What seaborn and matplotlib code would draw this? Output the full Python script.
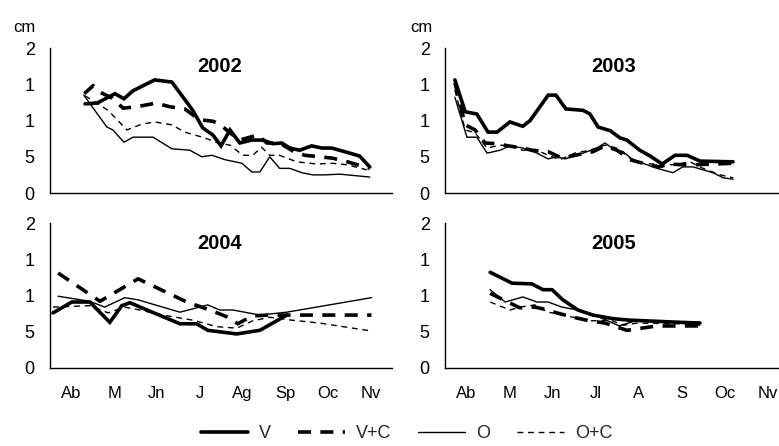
import numpy as np
import pandas as pd
import seaborn as sns
import matplotlib
matplotlib.use("Agg")
import matplotlib.pyplot as plt
from matplotlib.lines import Line2D

sns.set_style("white")
plt.rcParams['font.family'] = ['Liberation Sans', 'DejaVu Sans']

# ---------------- data (x in month-category units, y in axis units) ----------------
months_left = ["Ab", "M", "Jn", "J", "Ag", "Sp", "Oc", "Nv"]
months_right = ["Ab", "M", "Jn", "Jl", "A", "S", "Oc", "Nv"]
ytick_vals = [0, 0.5, 1.0, 1.5, 2.0]
ytick_labels = ["0", "5", "1", "1", "2"]
series_names = ["V", "V+C", "O", "O+C"]

# 2002
x02_V = [0.82, 1.10, 1.52, 1.73, 1.94, 2.45, 2.85, 3.34, 3.57, 3.81, 4.00, 4.21, 4.44, 4.72, 4.98, 5.21, 5.42, 5.61, 5.84, 6.12, 6.36, 6.59, 7.01, 7.24, 7.48]
y02_V = [1.23, 1.24, 1.37, 1.30, 1.41, 1.56, 1.53, 1.14, 0.90, 0.80, 0.65, 0.87, 0.69, 0.73, 0.73, 0.68, 0.69, 0.62, 0.59, 0.65, 0.62, 0.62, 0.55, 0.51, 0.36]
x02_VC = [0.80, 1.01, 1.17, 1.45, 1.71, 2.03, 2.48, 2.80, 3.15, 3.50, 3.81, 3.97, 4.21, 4.44, 4.86, 5.07, 5.37, 5.68, 5.96, 6.31, 6.61, 6.96, 7.48]
y02_VC = [1.37, 1.48, 1.39, 1.31, 1.17, 1.19, 1.24, 1.19, 1.16, 1.01, 0.99, 0.95, 0.83, 0.73, 0.80, 0.69, 0.69, 0.58, 0.52, 0.50, 0.48, 0.43, 0.34]
x02_O = [0.79, 1.33, 1.47, 1.73, 1.94, 2.41, 2.85, 3.27, 3.55, 3.79, 4.09, 4.49, 4.72, 4.91, 5.14, 5.37, 5.61, 5.89, 6.15, 6.43, 6.78, 7.48]
y02_O = [1.35, 0.91, 0.87, 0.70, 0.77, 0.77, 0.61, 0.59, 0.50, 0.52, 0.46, 0.41, 0.29, 0.29, 0.50, 0.34, 0.34, 0.28, 0.25, 0.25, 0.26, 0.22]
x02_OC = [0.82, 1.36, 1.80, 2.15, 2.45, 2.85, 3.15, 3.62, 3.93, 4.21, 4.51, 4.74, 4.95, 5.14, 5.37, 5.77, 6.24, 6.61, 6.94, 7.41]
y02_OC = [1.34, 1.14, 0.87, 0.95, 0.98, 0.94, 0.84, 0.76, 0.69, 0.66, 0.52, 0.52, 0.63, 0.52, 0.52, 0.43, 0.40, 0.41, 0.39, 0.32]

# 2003
x03_V = [0.23, 0.47, 0.74, 1.00, 1.21, 1.51, 1.81, 1.98, 2.40, 2.58, 2.81, 3.21, 3.37, 3.56, 3.84, 4.07, 4.23, 4.53, 4.77, 5.05, 5.35, 5.63, 5.93, 6.70]
y03_V = [1.56, 1.12, 1.09, 0.84, 0.84, 0.98, 0.92, 1.00, 1.35, 1.35, 1.16, 1.14, 1.09, 0.91, 0.86, 0.76, 0.73, 0.59, 0.51, 0.40, 0.52, 0.52, 0.44, 0.43]
x03_VC = [0.23, 0.47, 0.70, 0.93, 1.21, 1.47, 1.81, 2.02, 2.40, 2.72, 2.86, 3.44, 3.72, 4.00, 4.30, 4.60, 4.98, 5.21, 5.51, 5.84, 6.70]
y03_VC = [1.52, 0.94, 0.87, 0.69, 0.68, 0.65, 0.62, 0.59, 0.57, 0.48, 0.50, 0.57, 0.65, 0.59, 0.46, 0.41, 0.36, 0.40, 0.39, 0.39, 0.41]
x03_O = [0.23, 0.51, 0.74, 0.98, 1.28, 1.51, 1.81, 2.14, 2.40, 2.60, 2.79, 3.07, 3.30, 3.53, 3.72, 3.91, 4.14, 4.37, 4.60, 4.93, 5.30, 5.53, 5.77, 6.00, 6.23, 6.47, 6.70]
y03_O = [1.32, 0.77, 0.77, 0.55, 0.59, 0.65, 0.62, 0.55, 0.47, 0.50, 0.47, 0.52, 0.57, 0.62, 0.69, 0.61, 0.57, 0.46, 0.41, 0.34, 0.28, 0.36, 0.36, 0.32, 0.28, 0.21, 0.19]
x03_OC = [0.23, 0.47, 0.70, 0.98, 1.28, 1.51, 1.81, 2.14, 2.40, 2.67, 3.02, 3.37, 3.72, 4.00, 4.30, 4.60, 5.00, 5.30, 5.70, 6.00, 6.40, 6.70]
y03_OC = [1.42, 0.87, 0.83, 0.62, 0.66, 0.65, 0.59, 0.59, 0.52, 0.46, 0.55, 0.59, 0.66, 0.62, 0.48, 0.41, 0.39, 0.39, 0.43, 0.34, 0.25, 0.21]

# 2004
x04_V = [0.07, 0.51, 0.93, 1.40, 1.68, 1.87, 2.27, 3.04, 3.43, 3.69, 4.37, 4.91, 5.21, 5.54]
y04_V = [0.76, 0.91, 0.91, 0.63, 0.86, 0.90, 0.80, 0.61, 0.61, 0.52, 0.47, 0.52, 0.62, 0.73]
x04_VC = [0.19, 1.17, 2.06, 3.20, 3.74, 4.21, 4.39, 4.74, 5.14, 5.61, 7.52]
y04_VC = [1.31, 0.92, 1.23, 0.91, 0.80, 0.69, 0.61, 0.72, 0.73, 0.73, 0.73]
x04_O = [0.19, 0.93, 1.28, 1.75, 2.06, 3.04, 3.69, 3.97, 4.28, 4.91, 5.54, 7.52]
y04_O = [0.99, 0.92, 0.84, 0.97, 0.94, 0.77, 0.87, 0.80, 0.80, 0.73, 0.77, 0.97]
x04_OC = [0.07, 0.93, 1.36, 1.75, 2.10, 2.64, 3.34, 3.90, 4.37, 4.74, 5.14, 5.65, 6.31, 7.52]
y04_OC = [0.84, 0.86, 0.76, 0.84, 0.80, 0.73, 0.66, 0.57, 0.55, 0.65, 0.70, 0.66, 0.62, 0.51]

# 2005
x05_V = [1.05, 1.56, 2.02, 2.28, 2.49, 2.74, 3.09, 3.44, 3.91, 4.30, 5.47, 5.93]
y05_V = [1.32, 1.17, 1.16, 1.08, 1.08, 0.94, 0.80, 0.73, 0.68, 0.66, 0.63, 0.62]
x05_VC = [1.05, 1.74, 2.09, 2.40, 2.60, 2.98, 3.37, 3.72, 4.23, 4.93, 5.93]
y05_VC = [1.03, 0.83, 0.84, 0.80, 0.76, 0.70, 0.65, 0.62, 0.52, 0.58, 0.58]
x05_O = [1.05, 1.40, 1.81, 2.14, 2.40, 2.72, 3.09, 3.60, 4.05, 4.47, 5.47, 5.93]
y05_O = [1.08, 0.91, 0.98, 0.91, 0.91, 0.84, 0.80, 0.70, 0.58, 0.66, 0.63, 0.63]
x05_OC = [1.05, 1.51, 1.74, 2.09, 2.40, 2.67, 2.98, 3.37, 3.84, 4.16, 4.47, 5.47, 5.93]
y05_OC = [0.91, 0.80, 0.84, 0.87, 0.77, 0.74, 0.70, 0.65, 0.66, 0.59, 0.62, 0.61, 0.59]

panels = [
    ("2002", months_left, [(x02_V, y02_V), (x02_VC, y02_VC), (x02_O, y02_O), (x02_OC, y02_OC)]),
    ("2003", months_right, [(x03_V, y03_V), (x03_VC, y03_VC), (x03_O, y03_O), (x03_OC, y03_OC)]),
    ("2004", months_left, [(x04_V, y04_V), (x04_VC, y04_VC), (x04_O, y04_O), (x04_OC, y04_OC)]),
    ("2005", months_right, [(x05_V, y05_V), (x05_VC, y05_VC), (x05_O, y05_O), (x05_OC, y05_OC)]),
]

styles = {
    "V": dict(linewidth=2.6, linestyle="-"),
    "V+C": dict(linewidth=2.6, linestyle=(0, (3.6, 2.6))),
    "O": dict(linewidth=1.0, linestyle="-"),
    "O+C": dict(linewidth=1.0, linestyle=(0, (4.2, 3.4))),
}

# ---------------- figure layout ----------------
W, H = 779, 446
fig = plt.figure(figsize=(W / 100, H / 100), dpi=100)

def fax(left_px, bottom_px, width_px, height_px):
    return fig.add_axes([left_px / W, (H - bottom_px) / H, width_px / W, height_px / H])

axes = [
    fax(50, 193, 342, 145),
    fax(445, 193, 344, 145),
    fax(50, 368, 342, 145),
    fax(445, 368, 344, 145),
]
title_pos = [(3.97, 1.75), (3.93, 1.75), (3.97, 1.72), (3.93, 1.72)]

for i, (ax, (title, months, data)) in enumerate(zip(axes, panels)):
    for name, (xs, ys) in zip(series_names, data):
        df = pd.DataFrame({"x": xs, "y": ys})
        sns.lineplot(data=df, x="x", y="y", ax=ax, color="black", sort=False,
                     estimator=None, errorbar=None, legend=False,
                     solid_joinstyle="miter", dash_capstyle="butt", **styles[name])
    ax.set_xlim(0, 8)
    ax.set_ylim(0, 2)
    ax.set_xlabel("")
    ax.set_ylabel("")
    for s in ["top", "right"]:
        ax.spines[s].set_visible(False)
    for s in ["left", "bottom"]:
        ax.spines[s].set_color("black")
        ax.spines[s].set_linewidth(1.0)
    ax.set_yticks(ytick_vals)
    ax.set_yticklabels(ytick_labels)
    ax.tick_params(axis="y", which="major", direction="out", length=4, width=1,
                   color="black", labelsize=13, pad=7, labelcolor="black")
    ax.set_xticks(np.arange(0, 9))
    ax.set_xticklabels([])
    ax.tick_params(axis="x", which="major", direction="out", length=5, width=1, color="black")
    if i >= 2:
        ax.set_xticks(np.arange(0.5, 8, 1), minor=True)
        ax.set_xticklabels(months, minor=True)
        ax.tick_params(axis="x", which="minor", length=0, labelsize=12, pad=13, labelcolor="black")
    ax.text(title_pos[i][0], title_pos[i][1], title, ha="center", va="center",
            fontsize=14.5, fontweight="bold", color="black")
    ax.grid(False)
    ax.set_facecolor("white")

fig.text(24 / W, (H - 28) / H, "cm", ha="center", va="center", fontsize=12, color="black")
fig.text(421 / W, (H - 28) / H, "cm", ha="center", va="center", fontsize=12, color="black")

handles = [Line2D([0], [0], color="black", **styles[n]) for n in series_names]
fig.legend(handles, series_names, loc="center", bbox_to_anchor=(0.522, 12 / H), ncol=4,
           frameon=False, fontsize=13, handlelength=2.6, handletextpad=0.6,
           columnspacing=1.5, borderaxespad=0)

fig.savefig("out.png", dpi=100, facecolor="white")
